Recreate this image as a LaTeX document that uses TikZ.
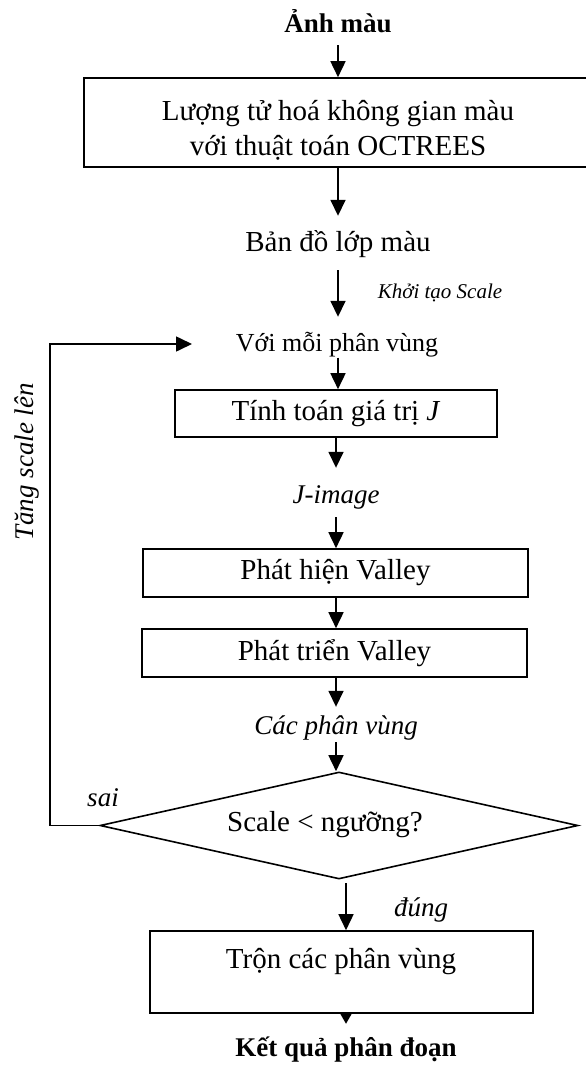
\documentclass[tikz,border=0pt]{standalone}
\usepackage{fontspec}
\setmainfont{Liberation Serif}
\usetikzlibrary{arrows.meta,shapes.geometric}
\newcommand\bodyfs{\fontsize{29}{35}\selectfont}
\newcommand\itfs{\fontsize{27}{32}\selectfont\itshape}
\newcommand\bldfs{\fontsize{27}{32}\selectfont\bfseries}
\newcommand\smallfs{\fontsize{21}{25}\selectfont\itshape}
\begin{document}
\begin{tikzpicture}[x=1pt,y=-1pt,
  lw/.style={line width=1.6pt},
  txt/.style={inner sep=0pt,text height=19pt,text depth=6pt,font=\bodyfs},
  itx/.style={txt,font=\itfs},
  bld/.style={txt,font=\bldfs},
  proc/.style={draw,lw,inner sep=0pt,align=center,font=\bodyfs},
  arr/.style={lw,-{Triangle[length=16pt,width=15pt]}},
  tip/.style={lw,-{Triangle[length=10pt,width=11pt]}}]
\useasboundingbox (0,0) rectangle (586,1065);

% nodes
\node[bld] (in) at (338,26) {Ảnh màu};
\node[proc,minimum width=508pt,minimum height=89pt] (q) at (338,122.5) {};
\node[inner sep=0pt,align=center,font=\bodyfs] (qt) at (338,130)
  {Lượng tử hoá không gian màu\\với thuật toán OCTREES};
\node[txt] (bmap) at (338,245) {Bản đồ lớp màu};
\node[txt,font=\smallfs] (init) at (440,292) {Khởi tạo Scale};
\node[txt,font=\fontsize{26}{31}\selectfont] (each) at (337,345) {Với mỗi phân vùng};
\node[proc,minimum width=322pt,minimum height=47pt] (jbox) at (336,413.5)
  {Tính toán giá trị \textit{J}};
\node[itx] (jimg) at (336,497) {J-image};
\node[proc,minimum width=385pt,minimum height=48pt] (vd) at (335.5,573) {Phát hiện Valley};
\node[proc,minimum width=385pt,minimum height=48pt] (vg) at (334.5,653) {Phát triển Valley};
\node[itx] (parts) at (336,728) {Các phân vùng};
\node[draw,lw,diamond,aspect=4.5,inner sep=0pt,minimum width=478pt,minimum height=107pt]
  (dia) at (339,825.5) {};
\node[txt] (dtext) at (325,825) {Scale < ngưỡng?};
\node[itx] (sai) at (103,800) {sai};
\node[itx,rotate=90] (inc) at (27,462) {Tăng scale lên};
\node[itx] (dung) at (421,910) {đúng};
\node[proc,minimum width=383pt,minimum height=82pt] (merge) at (341.5,972) {};
\node[txt] (mt) at (341,962) {Trộn các phân vùng};
\node[bld] (res) at (346,1050) {Kết quả phân đoạn};

% loop coordinates
\coordinate (lc) at (50,825.5);
\coordinate (lt) at (50,344);
\coordinate (lend) at (192,344);
\coordinate (ds) at (346,883);

% connectors
\draw[arr,shorten <=6.5pt] (in) -- (q);
\draw[arr,shorten >=16.5pt] (q.south) -- (q.south |- bmap.north);
\draw[arr,shorten <=12.5pt,shorten >=15.5pt] (bmap.south) -- (bmap.south |- each.north);
\draw[arr] (bmap.south |- each.south) -- (bmap.south |- jbox.north);
\draw[arr,shorten >=16.5pt] (jimg.north |- jbox.south) -- (jimg.north);
\draw[arr,shorten <=7.5pt] (jimg.south) -- (jimg.south |- vd.north);
\draw[arr] (jimg.south |- vd.south) -- (jimg.south |- vg.north);
\draw[arr,shorten >=8.5pt] (parts.north |- vg.south) -- (parts.north);
\draw[arr,shorten <=1.5pt] (parts.south) -- (parts.south |- dia.north);
\draw[arr] (dia.west) -- (lc) -- (lt) -- (lend);
\draw[arr] (ds) -- (ds |- merge.north);
\draw[tip] (ds |- merge.south) -- ++(0,10);
\end{tikzpicture}
\end{document}
